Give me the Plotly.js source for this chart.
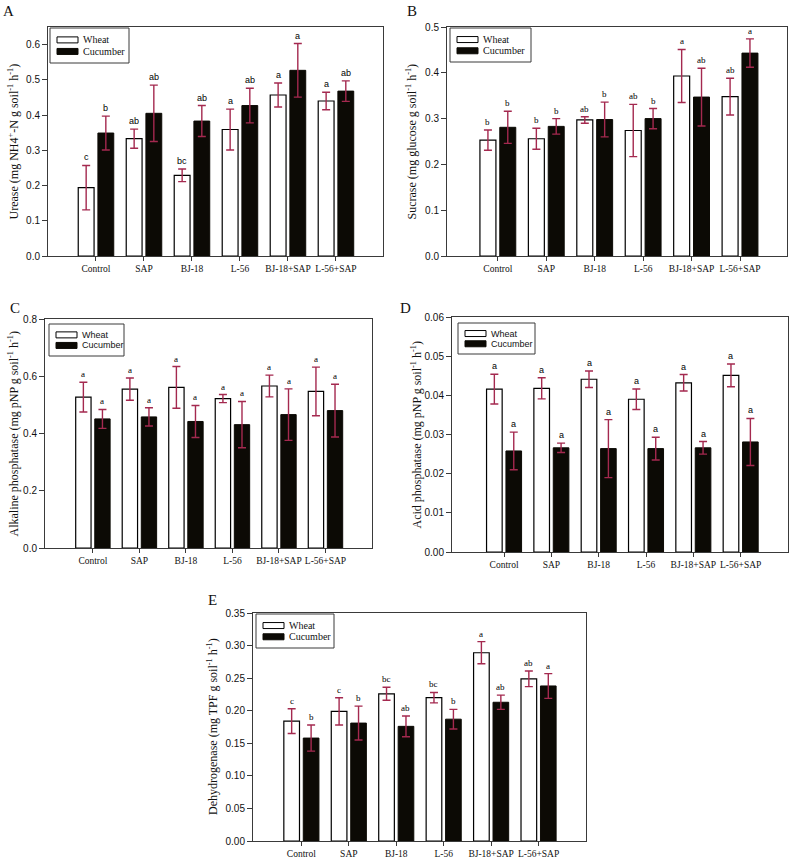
<!DOCTYPE html>
<html><head><meta charset="utf-8">
<script src="https://cdn.plot.ly/plotly-3.0.1.min.js"></script>
<style>html,body{margin:0;padding:0;background:#fff}#chart{width:791px;height:860px}</style>
</head><body><div id="chart"></div>
<script>
// ---------- data ----------
const categories = ['Control', 'SAP', 'BJ-18', 'L-56', 'BJ-18+SAP', 'L-56+SAP'];
const seriesNames = ['Wheat', 'Cucumber'];

const ureaseWheat = [0.194, 0.333, 0.229, 0.359, 0.457, 0.440];
const ureaseWheatErr = [0.063, 0.027, 0.018, 0.058, 0.034, 0.025];
const ureaseCuc = [0.349, 0.405, 0.383, 0.427, 0.527, 0.468];
const ureaseCucErr = [0.048, 0.080, 0.044, 0.049, 0.076, 0.029];
const ureaseWheatLab = ['c', 'ab', 'bc', 'a', 'a', 'a'];
const ureaseCucLab = ['b', 'ab', 'ab', 'ab', 'a', 'ab'];

const sucraseWheat = [0.253, 0.256, 0.297, 0.274, 0.393, 0.348];
const sucraseWheatErr = [0.022, 0.023, 0.007, 0.057, 0.058, 0.040];
const sucraseCuc = [0.281, 0.283, 0.298, 0.300, 0.347, 0.443];
const sucraseCucErr = [0.035, 0.017, 0.038, 0.022, 0.063, 0.031];
const sucraseWheatLab = ['b', 'b', 'ab', 'ab', 'a', 'ab'];
const sucraseCucLab = ['b', 'b', 'b', 'b', 'ab', 'a'];

const alkWheat = [0.527, 0.555, 0.561, 0.522, 0.566, 0.547];
const alkWheatErr = [0.052, 0.039, 0.073, 0.014, 0.038, 0.085];
const alkCuc = [0.451, 0.458, 0.442, 0.431, 0.466, 0.480];
const alkCucErr = [0.033, 0.032, 0.056, 0.081, 0.090, 0.092];
const alkWheatLab = ['a', 'a', 'a', 'a', 'a', 'a'];
const alkCucLab = ['a', 'a', 'a', 'a', 'a', 'a'];

const acidWheat = [0.0416, 0.0418, 0.0441, 0.0390, 0.0432, 0.0451];
const acidWheatErr = [0.0038, 0.0027, 0.0021, 0.0026, 0.0021, 0.0029];
const acidCuc = [0.0258, 0.0266, 0.0264, 0.0264, 0.0266, 0.0281];
const acidCucErr = [0.0048, 0.0012, 0.0074, 0.0029, 0.0016, 0.0060];
const acidWheatLab = ['a', 'a', 'a', 'a', 'a', 'a'];
const acidCucLab = ['a', 'a', 'a', 'a', 'a', 'a'];

const dehWheat = [0.184, 0.199, 0.226, 0.220, 0.289, 0.249];
const dehWheatErr = [0.019, 0.021, 0.010, 0.008, 0.017, 0.012];
const dehCuc = [0.158, 0.181, 0.176, 0.187, 0.213, 0.238];
const dehCucErr = [0.020, 0.026, 0.016, 0.015, 0.011, 0.019];
const dehWheatLab = ['c', 'c', 'bc', 'bc', 'a', 'ab'];
const dehCucLab = ['b', 'b', 'ab', 'b', 'ab', 'a'];

// ---------- layout helpers ----------
const W = 791, H = 860;
const px = x => x / W, py = y => 1 - y / H;
const SERIF = 'Liberation Serif, Times New Roman, serif';
const SANS = 'Liberation Sans, Arial, sans-serif';
const ERRC = '#a4294f';
const AXC = '#3a3a3a';
const BLACK = '#0c0a05';
const BAR_W = 0.33, OFF_W = -0.37, OFF_C = 0.04;

const panels = [
  {letter: 'A', w: ureaseWheat, we: ureaseWheatErr, c: ureaseCuc, ce: ureaseCucErr, wl: ureaseWheatLab, cl: ureaseCucLab,
   box: [48, 27, 383, 256], xr: [-1, 5.98], yr: [0, 0.65], dtick: 0.1, fmt: '.1f',
   title: 'Urease (mg NH4<sup>+</sup>-N g soil<sup>-1</sup> h<sup>-1</sup>)', tx: 13, lxy: [8, 11],
   leg: [50, 28, 129, 63], legFont: SERIF, legSize: 10, labFont: SANS},
  {letter: 'B', w: sucraseWheat, we: sucraseWheatErr, c: sucraseCuc, ce: sucraseCucErr, wl: sucraseWheatLab, cl: sucraseCucLab,
   box: [447, 27, 787, 256], xr: [-1.05, 5.97], yr: [0, 0.5], dtick: 0.1, fmt: '.1f',
   title: 'Sucrase (mg glucose g soil<sup>-1</sup> h<sup>-1</sup>)', tx: 411, lxy: [412, 11],
   leg: [450, 28, 531, 62], legFont: SERIF, legSize: 10, labFont: SERIF},
  {letter: 'C', w: alkWheat, we: alkWheatErr, c: alkCuc, ce: alkCucErr, wl: alkWheatLab, cl: alkCucLab,
   box: [45, 319, 372, 548], xr: [-1.03, 6], yr: [0, 0.8], dtick: 0.2, fmt: '.1f',
   title: 'Alkaline phosphatase (mg pNP g soil<sup>-1</sup> h<sup>-1</sup>)', tx: 13, lxy: [15, 308],
   leg: [49, 324, 124, 356], legFont: SANS, legSize: 9, labFont: SERIF},
  {letter: 'D', w: acidWheat, we: acidWheatErr, c: acidCuc, ce: acidCucErr, wl: acidWheatLab, cl: acidCucLab,
   box: [452, 317, 788, 552], xr: [-1.1, 6], yr: [0, 0.06], dtick: 0.01, fmt: '.2f',
   title: 'Acid phosphatase (mg pNP g soil<sup>-1</sup> h<sup>-1</sup>)', tx: 416, lxy: [405, 308],
   leg: [458, 323, 535, 354], legFont: SANS, legSize: 9, labFont: SANS},
  {letter: 'E', w: dehWheat, we: dehWheatErr, c: dehCuc, ce: dehCucErr, wl: dehWheatLab, cl: dehCucLab,
   box: [253, 613, 586, 841], xr: [-1.02, 6], yr: [0, 0.35], dtick: 0.05, fmt: '.2f',
   title: 'Dehydrogenase (mg TPF g soil<sup>-1</sup> h<sup>-1</sup>)', tx: 212, lxy: [212, 600],
   leg: [256, 614, 334, 648], legFont: SERIF, legSize: 10, labFont: SERIF}
];

const idx = categories.map((_, i) => i);
const data = [];
const layout = {
  width: W, height: H, margin: {l: 0, r: 0, t: 0, b: 0},
  paper_bgcolor: '#fff', plot_bgcolor: '#fff',
  barmode: 'group', showlegend: false, annotations: [], shapes: []
};

panels.forEach((p, k) => {
  const n = k === 0 ? '' : String(k + 1);
  const xa = 'x' + n, ya = 'y' + n;
  const errCommon = {type: 'data', visible: true, color: ERRC, thickness: 1.4, width: 4};
  data.push({
    type: 'bar', name: seriesNames[0], x: idx, y: p.w, xaxis: xa, yaxis: ya,
    width: BAR_W, offset: OFF_W,
    marker: {color: '#ffffff', line: {color: '#000', width: 1.2}},
    error_y: Object.assign({array: p.we}, errCommon), hoverinfo: 'y'
  });
  data.push({
    type: 'bar', name: seriesNames[1], x: idx, y: p.c, xaxis: xa, yaxis: ya,
    width: BAR_W, offset: OFF_C,
    marker: {color: BLACK, line: {color: BLACK, width: 1}},
    error_y: Object.assign({array: p.ce}, errCommon), hoverinfo: 'y'
  });
  const [x0, y0, x1, y1] = p.box;
  layout['xaxis' + n] = {
    domain: [px(x0), px(x1)], anchor: ya, range: p.xr,
    tickvals: idx, ticktext: categories, tickangle: 0,
    showline: true, mirror: true, linecolor: AXC, linewidth: 1,
    ticks: 'outside', ticklen: 4, tickcolor: AXC, showgrid: false, zeroline: false,
    tickfont: {family: SERIF, size: 9.5, color: '#111'}, fixedrange: true
  };
  layout['yaxis' + n] = {
    domain: [py(y1), py(y0)], anchor: xa, range: p.yr, dtick: p.dtick, tick0: 0, tickformat: p.fmt,
    showline: true, mirror: true, linecolor: AXC, linewidth: 1,
    ticks: 'outside', ticklen: 5, tickcolor: AXC, showgrid: false, zeroline: false,
    tickfont: {family: SANS, size: 10, color: '#111'}, fixedrange: true
  };
  // legend box (drawn by hand to mimic the wide swatches)
  const [lx0, ly0, lx1, ly1] = p.leg;
  const rowH = (ly1 - ly0);
  layout.shapes.push({type: 'rect', xref: 'paper', yref: 'paper', x0: px(lx0), x1: px(lx1), y0: py(ly1), y1: py(ly0),
    line: {color: AXC, width: 1}, fillcolor: '#fff'});
  [0, 1].forEach(s => {
    const cy = ly0 + rowH * (s === 0 ? 0.34 : 0.67);
    layout.shapes.push({type: 'rect', xref: 'paper', yref: 'paper',
      x0: px(lx0 + 7), x1: px(lx0 + 28), y0: py(cy + 3), y1: py(cy - 3),
      line: {color: s === 0 ? '#000' : BLACK, width: 1}, fillcolor: s === 0 ? '#fff' : BLACK});
    layout.annotations.push({xref: 'paper', yref: 'paper', x: px(lx0 + 31), y: py(cy),
      text: seriesNames[s], showarrow: false, xanchor: 'left', yanchor: 'middle',
      font: {family: p.legFont, size: p.legSize, color: '#111'}});
  });
  // significance letters
  idx.forEach(i => {
    layout.annotations.push({xref: xa, yref: ya, x: i + OFF_W + BAR_W / 2, y: p.w[i] + p.we[i],
      text: p.wl[i], showarrow: false, yanchor: 'bottom', yshift: 1,
      font: {family: p.labFont, size: 9, color: '#000'}});
    layout.annotations.push({xref: xa, yref: ya, x: i + OFF_C + BAR_W / 2, y: p.c[i] + p.ce[i],
      text: p.cl[i], showarrow: false, yanchor: 'bottom', yshift: 1,
      font: {family: p.labFont, size: 9, color: '#000'}});
  });
  // y title
  layout.annotations.push({xref: 'paper', yref: 'paper', x: px(p.tx), y: py((y0 + y1) / 2),
    text: p.title, textangle: -90, showarrow: false, xanchor: 'center', yanchor: 'middle',
    font: {family: SERIF, size: 12, color: '#111'}});
  // panel letter
  layout.annotations.push({xref: 'paper', yref: 'paper', x: px(p.lxy[0]), y: py(p.lxy[1]),
    text: p.letter, showarrow: false, xanchor: 'center', yanchor: 'middle',
    font: {family: SERIF, size: 15, color: '#111'}});
});

Plotly.newPlot('chart', data, layout, {staticPlot: true, displayModeBar: false});
</script>
</body></html>
